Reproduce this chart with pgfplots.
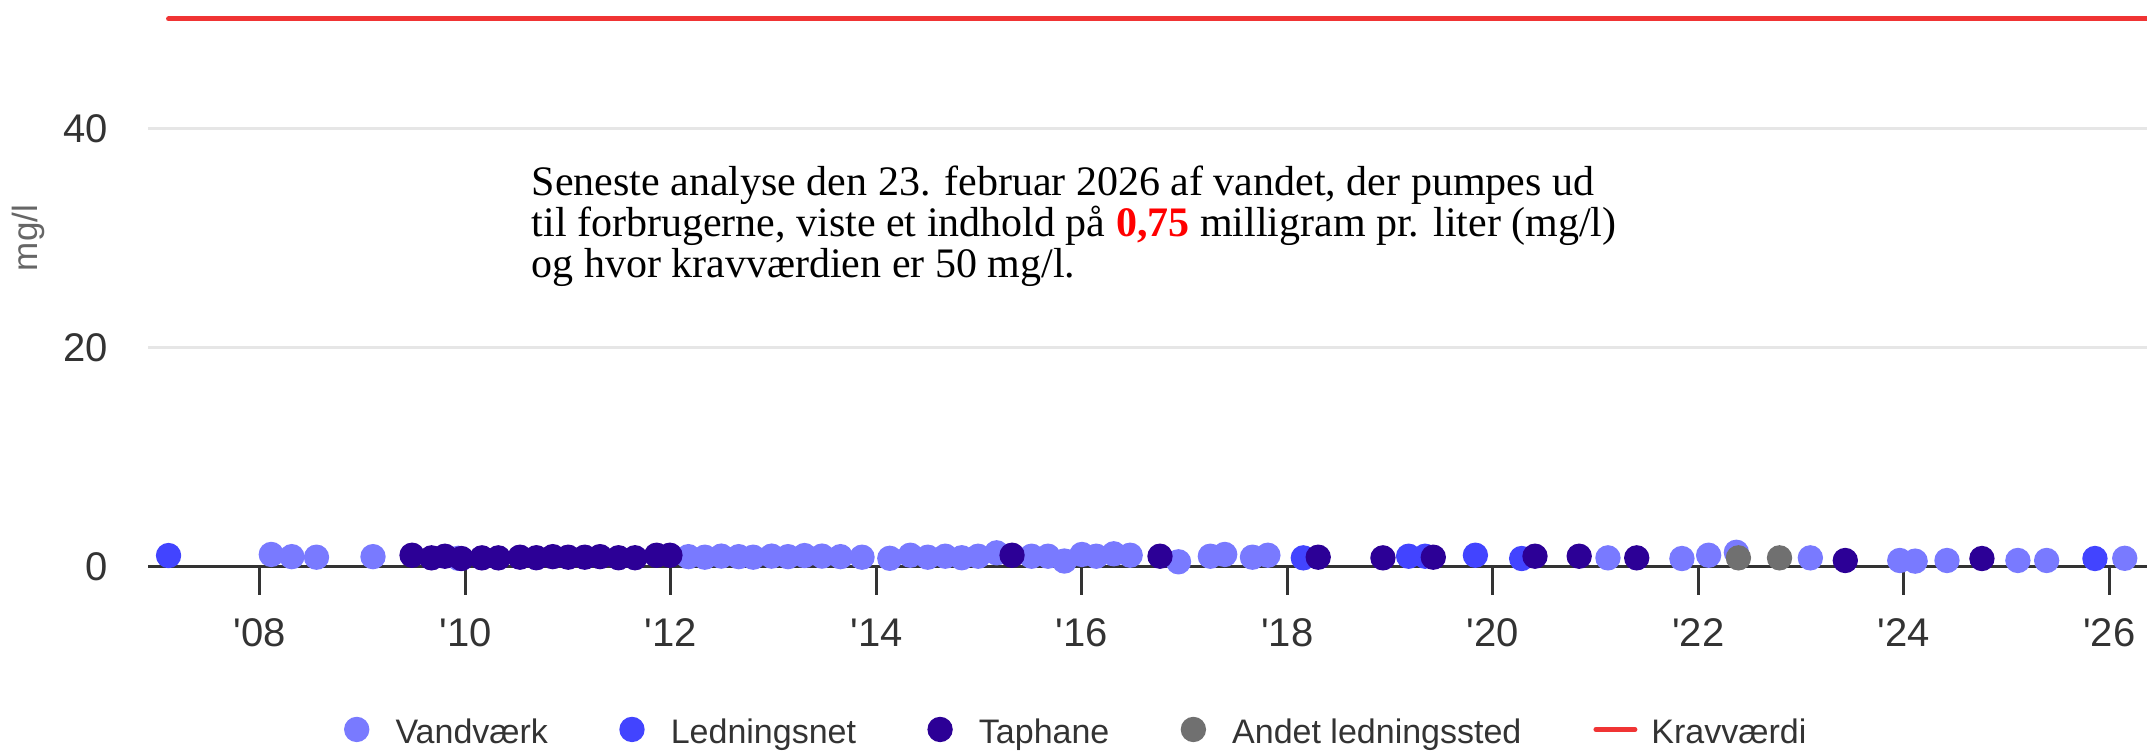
\documentclass[border=0pt]{standalone}
\usepackage{fontspec}
\setmainfont{Liberation Sans}[Ligatures=TeXOff]
\newfontfamily\seriffont{Liberation Serif}
\usepackage{pgfplots}
\pgfplotsset{compat=1.18}
\definecolor{vandcol}{RGB}{121,122,255}
\definecolor{ledcol}{RGB}{66,68,255}
\definecolor{tapcol}{RGB}{44,0,150}
\definecolor{andcol}{RGB}{112,112,112}
\definecolor{kravcol}{RGB}{240,52,52}
\definecolor{axiscol}{RGB}{51,51,51}
\definecolor{gridcol}{RGB}{230,230,230}
\definecolor{labcol}{RGB}{102,102,102}
\definecolor{txtred}{RGB}{255,0,0}
\pgfplotsset{
  dotleg/.style={legend image code/.code={\draw[##1] plot coordinates {(0pt,1.2pt)}; \path (7.25pt,1.2pt);}},
  kravleg/.style={legend image code/.code={\draw[##1] (0.75pt,1.2pt) -- (12.45pt,1.2pt);}},
}
\begin{document}
\begin{tikzpicture}
\useasboundingbox (0,0) rectangle (644.1pt,225pt);
\begin{axis}[
  at={(44.4pt,55.05pt)}, anchor=south west,
  scale only axis, width=599.7pt, height=169.18pt,
  xmin=2006.910, xmax=2026.367, ymin=0, ymax=51.5,
  clip=false,
  axis x line*=bottom, axis y line*=left,
  x axis line style={draw=axiscol, line width=1pt, -},
  y axis line style={draw=none},
  xtick={2008,2010,2012,2014,2016,2018,2020,2022,2024,2026},
  xticklabels={'08,'10,'12,'14,'16,'18,'20,'22,'24,'26},
  xtick style={draw=axiscol, line width=0.9pt},
  major tick length=8.4pt, tick align=outside,
  ytick={0,20,40}, yticklabels={0,20,40},
  ytick style={draw=none},
  ymajorgrids, grid style={gridcol, line width=0.8pt},
  ticklabel style={font=\fontsize{12}{14}\selectfont, text=axiscol},
  xticklabel style={anchor=base, yshift=-15.7pt},
  yticklabel style={anchor=east, inner sep=0pt, xshift=-3.5pt},
  ylabel={mg/l},
  ylabel style={at={(axis description cs:-0.060,0.5826)}, anchor=center, font=\fontsize{10.5}{12}\selectfont, text=labcol},
  legend columns=5,
  legend style={draw=none, fill=none, at={(axis description cs:0.464,-0.295)}, anchor=center,
    font=\fontsize{10.2}{12}\selectfont, text=axiscol, nodes={inner sep=0pt},
    /tikz/every odd column/.append style={column sep=4.2pt},
    /tikz/every even column/.append style={column sep=21.6pt}},
  mark size=3.6pt,
]
\addplot[only marks, mark=*, color=vandcol, dotleg] coordinates {
(2008.11,1.10) (2008.31,0.90) (2008.55,0.85) (2009.10,0.90) (2009.93,0.75)
(2012.17,0.90) (2012.33,0.85) (2012.49,0.95) (2012.66,0.90) (2012.80,0.85)
(2012.98,0.95) (2013.14,0.90) (2013.30,1.00) (2013.47,0.95) (2013.65,0.90)
(2013.86,0.85) (2014.13,0.75) (2014.33,1.03) (2014.50,0.85) (2014.67,0.94)
(2014.83,0.80) (2014.99,0.94) (2015.17,1.25) (2015.51,0.94) (2015.67,0.94)
(2015.83,0.50) (2016.00,1.10) (2016.14,0.94) (2016.31,1.16) (2016.47,1.03)
(2016.94,0.43) (2017.25,0.94) (2017.39,1.10) (2017.66,0.85) (2017.81,1.03)
(2021.12,0.79) (2021.84,0.73) (2022.10,1.03) (2022.37,1.30) (2023.09,0.79)
(2023.96,0.55) (2024.11,0.49) (2024.42,0.55) (2025.11,0.55) (2025.39,0.55)
(2026.15,0.75)
};
\addlegendentry{Vandværk}
\addplot[only marks, mark=*, color=ledcol, dotleg] coordinates {
(2007.11,1.00) (2018.155,0.79) (2019.18,0.94) (2019.34,0.94) (2019.83,1.03)
(2020.28,0.73) (2025.86,0.73)
};
\addlegendentry{Ledningsnet}
\addplot[only marks, mark=*, color=tapcol, dotleg] coordinates {
(2009.48,1.03) (2009.67,0.79) (2009.80,0.94) (2009.96,0.73) (2010.16,0.79)
(2010.32,0.79) (2010.53,0.85) (2010.69,0.80) (2010.85,0.90) (2011.00,0.85)
(2011.16,0.85) (2011.31,0.90) (2011.49,0.80) (2011.65,0.80) (2011.86,1.03)
(2011.99,1.03) (2015.32,1.03) (2016.76,0.94) (2018.30,0.85) (2018.93,0.79)
(2019.42,0.85) (2020.41,0.94) (2020.84,0.94) (2021.40,0.79) (2023.43,0.55)
(2024.76,0.73)
};
\addlegendentry{Taphane}
\addplot[only marks, mark=*, color=andcol, dotleg] coordinates {
(2022.39,0.79) (2022.79,0.79)
};
\addlegendentry{Andet ledningssted}
\addplot[kravcol, line width=1.5pt, line cap=round, no marks, kravleg] coordinates {
(2007.11,50) (2026.367,50)
};
\addlegendentry{Kravværdi}
\end{axis}
\begin{scope}[every node/.style={anchor=base west, inner sep=0pt, font=\seriffont\fontsize{12.6}{14}\selectfont}]
\node at (159.3pt,166.3pt) {Seneste analyse den 23. februar 2026 af vandet, der pumpes ud};
\node at (159.3pt,154.0pt) {til forbrugerne, viste et indhold på \textcolor{txtred}{\textbf{0,75}} milligram pr. liter (mg/l)};
\node at (159.3pt,141.7pt) {og hvor kravværdien er 50 mg/l.};
\end{scope}
\end{tikzpicture}
\end{document}
